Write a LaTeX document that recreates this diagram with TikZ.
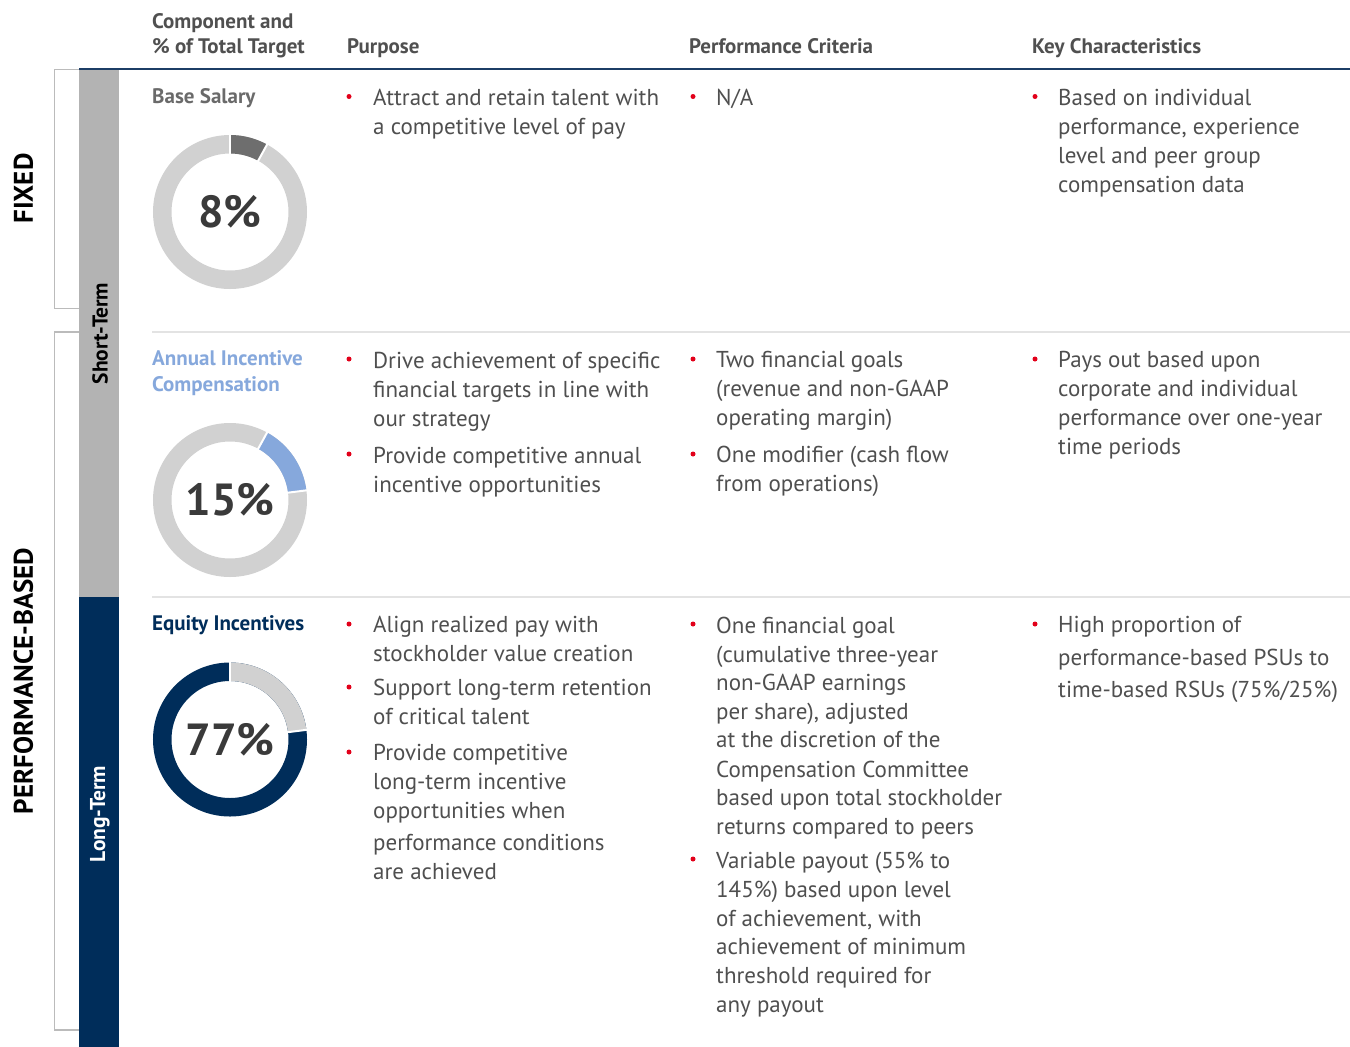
\documentclass[tikz,border=0pt]{standalone}
\usepackage{fontspec}
\setmainfont{PT Sans}
\definecolor{txtgray}{HTML}{4F4F4F}
\definecolor{hdrgray}{HTML}{505050}
\definecolor{lblgray}{HTML}{6A6A6A}
\definecolor{lblblue}{HTML}{86A8DC}
\definecolor{navy}{HTML}{002D5A}
\definecolor{hdrline}{HTML}{1C3D66}
\definecolor{bargray}{HTML}{B3B3B3}
\definecolor{brkgray}{HTML}{BBBBBB}
\definecolor{sepgray}{HTML}{E3E3E3}
\definecolor{ringgray}{HTML}{D1D1D1}
\definecolor{darkseg}{HTML}{6E6E6E}
\definecolor{bulred}{HTML}{E2001A}
\definecolor{pctgray}{HTML}{3A3A3A}
\begin{document}
\begin{tikzpicture}[x=1pt,y=1pt,
  body/.style={anchor=base west, inner sep=0pt, text=txtgray, font=\fontsize{23}{29}\selectfont},
  hdr/.style={anchor=base west, inner sep=0pt, text=hdrgray, font=\bfseries\fontsize{21}{25}\selectfont},
  lbl/.style={anchor=base west, inner sep=0pt, font=\bfseries\fontsize{21}{25}\selectfont},
  bul/.style={circle, fill=bulred, inner sep=0pt, minimum size=5pt},
  pct/.style={inner sep=0pt, text=pctgray, font=\bfseries\fontsize{45}{50}\selectfont},
  side/.style={rotate=90, inner sep=0pt, font=\bfseries\fontsize{27}{30}\selectfont},
  term/.style={rotate=90, inner sep=0pt, font=\bfseries\fontsize{21.5}{24}\selectfont},
  ring/.style={line width=18.5pt},
  gap/.style={white, line width=2pt}
]
\useasboundingbox (0,0) rectangle (1350,-1047);

% bars
\fill[bargray] (79,-70) rectangle (119,-597);
\fill[navy] (79,-597) rectangle (119,-1047);
\draw[hdrline, line width=2.6pt] (79,-69) -- (1350,-69);

% brackets
\draw[brkgray, line width=1.2pt] (79,-69.5) -- (54.5,-69.5) -- (54.5,-308.5) -- (79,-308.5);
\draw[brkgray, line width=1.2pt] (79,-332) -- (54.5,-332) -- (54.5,-1030) -- (79,-1030);

% row separators
\draw[sepgray, line width=1.5pt] (152,-332) -- (1350,-332);
\draw[sepgray, line width=1.5pt] (152,-597) -- (1350,-597);

% side labels
\node[side] (fixed) at (23.5,-188.5) {FIXED};
\node[side] (perf) at (23.5,-681) {PERFORMANCE-BASED};
\node[term] (short) at (100,-333.5) {Short-Term};
\node[term, text=white] (long) at (100,-814) {Long-Term};

% headers
\node[hdr] (h1) at (152,-28) {Component and};
\node[hdr] (h2) at (152,-53) {\% of Total Target};
\node[hdr] (h3) at (347,-53) {Purpose};
\node[hdr] (h4) at (689,-53) {Performance Criteria};
\node[hdr] (h5) at (1032,-53) {Key Characteristics};

% component labels
\node[lbl, text=lblgray] (l1) at (152,-103) {Base Salary};
\node[lbl, text=lblblue] (l2a) at (152,-365) {Annual Incentive};
\node[lbl, text=lblblue] (l2b) at (152,-391) {Compensation};
\node[lbl, text=navy] (l3) at (152,-630) {Equity Incentives};

% donut 1 (8%)
\coordinate (d1) at (230,-212);
\draw[ring, ringgray] (d1) circle (67.75);
\draw[ring, darkseg] ([shift={(90:67.75)}]d1) arc (90:61.2:67.75);
\draw[gap] ([shift={(90:57)}]d1) -- ([shift={(90:79)}]d1);
\draw[gap] ([shift={(61.2:57)}]d1) -- ([shift={(61.2:79)}]d1);
\node[pct] (p1) at (d1) {8\%};

% donut 2 (15%)
\coordinate (d2) at (230,-500);
\draw[ring, ringgray] (d2) circle (67.75);
\draw[ring, lblblue] ([shift={(61.2:67.75)}]d2) arc (61.2:7.2:67.75);
\draw[gap] ([shift={(61.2:57)}]d2) -- ([shift={(61.2:79)}]d2);
\draw[gap] ([shift={(7.2:57)}]d2) -- ([shift={(7.2:79)}]d2);
\node[pct] (p2) at (d2) {15\%};

% donut 3 (77%)
\coordinate (d3) at (230,-739.5);
\draw[ring, navy] (d3) circle (67.75);
\draw[ring, ringgray] ([shift={(90:67.75)}]d3) arc (90:7.2:67.75);
\draw[gap] ([shift={(90:57)}]d3) -- ([shift={(90:79)}]d3);
\draw[gap] ([shift={(7.2:57)}]d3) -- ([shift={(7.2:79)}]d3);
\node[pct] (p3) at (d3) {77\%};

% ---- Row 1
\node[bul] (r1pb1) at (349,-96.5) {};
\node[body] (r1p1) at (373,-105) {Attract and retain talent with};
\node[body] (r1p2) at (373,-134) {a competitive level of pay};
\node[bul] (r1cb1) at (693,-96.5) {};
\node[body] (r1c1) at (716,-105) {N/A};
\node[bul] (r1kb1) at (1035,-96.5) {};
\node[body] (r1k1) at (1058,-105) {Based on individual};
\node[body] (r1k2) at (1058,-134) {performance, experience};
\node[body] (r1k3) at (1058,-163) {level and peer group};
\node[body] (r1k4) at (1058,-192) {compensation data};

% ---- Row 2
\node[bul] (r2pb1) at (349,-359) {};
\node[body] (r2p1) at (373,-368) {Drive achievement of specific};
\node[body] (r2p2) at (373,-397) {financial targets in line with};
\node[body] (r2p3) at (373,-426) {our strategy};
\node[bul] (r2pb2) at (349,-454) {};
\node[body] (r2p4) at (373,-463) {Provide competitive annual};
\node[body] (r2p5) at (373,-492) {incentive opportunities};
\node[bul] (r2cb1) at (693,-359) {};
\node[body] (r2c1) at (716,-367) {Two financial goals};
\node[body] (r2c2) at (716,-396) {(revenue and non-GAAP};
\node[body] (r2c3) at (716,-425) {operating margin)};
\node[bul] (r2cb2) at (693,-454) {};
\node[body] (r2c4) at (716,-462) {One modifier (cash flow};
\node[body] (r2c5) at (716,-491) {from operations)};
\node[bul] (r2kb1) at (1035,-359) {};
\node[body] (r2k1) at (1058,-367) {Pays out based upon};
\node[body] (r2k2) at (1058,-396) {corporate and individual};
\node[body] (r2k3) at (1058,-425) {performance over one-year};
\node[body] (r2k4) at (1058,-454) {time periods};

% ---- Row 3
\node[bul] (r3pb1) at (349,-624) {};
\node[body] (r3p1) at (373,-632) {Align realized pay with};
\node[body] (r3p2) at (373,-661) {stockholder value creation};
\node[bul] (r3pb2) at (349,-687) {};
\node[body] (r3p3) at (373,-695) {Support long-term retention};
\node[body] (r3p4) at (373,-724) {of critical talent};
\node[bul] (r3pb3) at (349,-752) {};
\node[body] (r3p5) at (373,-760) {Provide competitive};
\node[body] (r3p6) at (373,-789) {long-term incentive};
\node[body] (r3p7) at (373,-818) {opportunities when};
\node[body] (r3p8) at (373,-850) {performance conditions};
\node[body] (r3p9) at (373,-879) {are achieved};

\node[bul] (r3cb1) at (693,-624) {};
\node[body] (r3c1) at (716,-633) {One financial goal};
\node[body] (r3c2) at (716,-662) {(cumulative three-year};
\node[body] (r3c3) at (716,-690) {non-GAAP earnings};
\node[body] (r3c4) at (716,-719) {per share), adjusted};
\node[body] (r3c5) at (716,-747) {at the discretion of the};
\node[body] (r3c6) at (716,-777) {Compensation Committee};
\node[body] (r3c7) at (716,-805) {based upon total stockholder};
\node[body] (r3c8) at (716,-834) {returns compared to peers};
\node[bul] (r3cb2) at (693,-859) {};
\node[body] (r3c9) at (716,-868) {Variable payout (55\% to};
\node[body] (r3c10) at (716,-897) {145\%) based upon level};
\node[body] (r3c11) at (716,-926) {of achievement, with};
\node[body] (r3c12) at (716,-954) {achievement of minimum};
\node[body] (r3c13) at (716,-983) {threshold required for};
\node[body] (r3c14) at (716,-1012) {any payout};

\node[bul] (r3kb1) at (1035,-624) {};
\node[body] (r3k1) at (1058,-632) {High proportion of};
\node[body] (r3k2) at (1058,-665) {performance-based PSUs to};
\node[body] (r3k3) at (1058,-697) {time-based RSUs (75\%/25\%)};
\end{tikzpicture}
\end{document}
